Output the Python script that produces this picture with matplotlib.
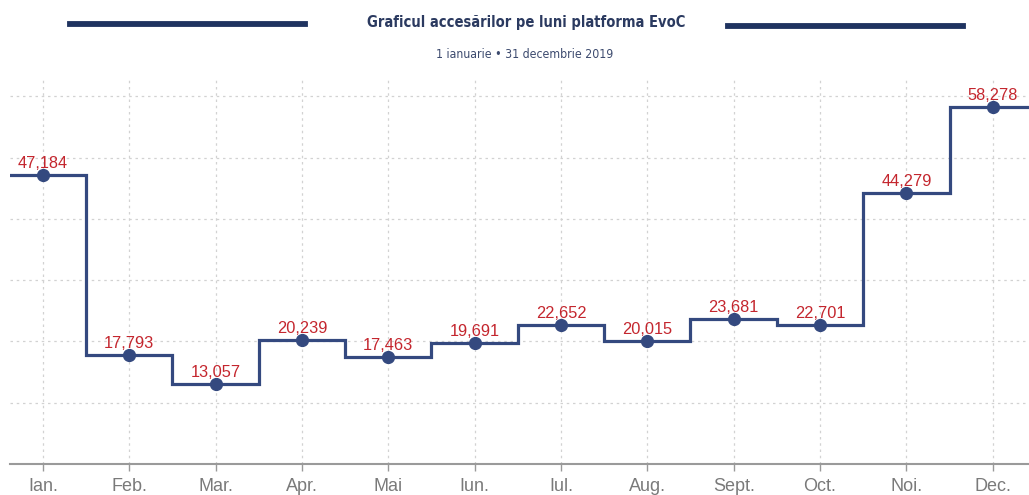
import numpy as np
import matplotlib
matplotlib.use("Agg")
import matplotlib.pyplot as plt
from matplotlib.lines import Line2D

# Monthly page accesses, EvoC platform, 2019
months = ["Ian.", "Feb.", "Mar.", "Apr.", "Mai", "Iun.",
          "Iul.", "Aug.", "Sept.", "Oct.", "Noi.", "Dec."]
visits = [47184, 17793, 13057, 20239, 17463, 19691,
          22652, 20015, 23681, 22701, 44279, 58278]

title = "Graficul accesărilor pe luni platforma EvoC"
subtitle = "1 ianuarie • 31 decembrie 2019"

line_color = "#34497f"
label_color = "#c4262e"
navy = "#1f3360"

W, H = 1029, 495
fig = plt.figure(figsize=(W / 100, H / 100), dpi=100)
ax = fig.add_axes([10 / W, 31 / H, 1 - 10 / W, (464 - 78) / H])

x = np.arange(len(months))
edges = np.arange(len(months) + 1) - 0.5

ax.stairs(visits, edges, baseline=None, color=line_color, lw=2.3, zorder=3)
ax.plot(x, visits, "o", color=line_color, ms=8.5, zorder=4)

for xi, v in zip(x, visits):
    ax.annotate(f"{v:,}", (xi, v), xytext=(0, 3), textcoords="offset points",
                ha="center", va="bottom", color=label_color, fontsize=11.8,
                family="Liberation Sans", zorder=5)

ax.set_xlim(-0.38, 11.42)
ax.set_ylim(0, 63000)
ax.set_xticks(x)
ax.set_xticklabels(months, family="Liberation Sans", fontsize=13, color="#7a7a7a")
ax.set_yticks(np.arange(10000, 60001, 10000))
ax.tick_params(axis="y", left=False, labelleft=False)
ax.tick_params(axis="x", length=5, width=1, color="#999999", pad=5)

for s in ["left", "right", "top"]:
    ax.spines[s].set_visible(False)
ax.spines["bottom"].set_color("#9a9a9a")
ax.spines["bottom"].set_linewidth(1.5)

ax.grid(True, color="#d2d2d2", linestyle=(0, (2, 3)), lw=0.9)
ax.set_axisbelow(True)

# header
fig.text(526.5 / W, 1 - 23 / H, title, ha="center", va="center",
         family="DejaVu Sans", fontstretch="condensed", fontweight="bold",
         fontsize=10.5, color="#2b3a60")
fig.text(525 / W, 1 - 55 / H, subtitle, ha="center", va="center",
         family="DejaVu Sans", fontstretch="condensed",
         fontsize=8.8, color="#3c4a6e")
fig.add_artist(Line2D([70 / W, 305 / W], [1 - 23.5 / H] * 2, color=navy,
                      lw=4.2, transform=fig.transFigure))
fig.add_artist(Line2D([728 / W, 963 / W], [1 - 26 / H] * 2, color=navy,
                      lw=4.2, transform=fig.transFigure))

fig.savefig("out.png", dpi=100)
